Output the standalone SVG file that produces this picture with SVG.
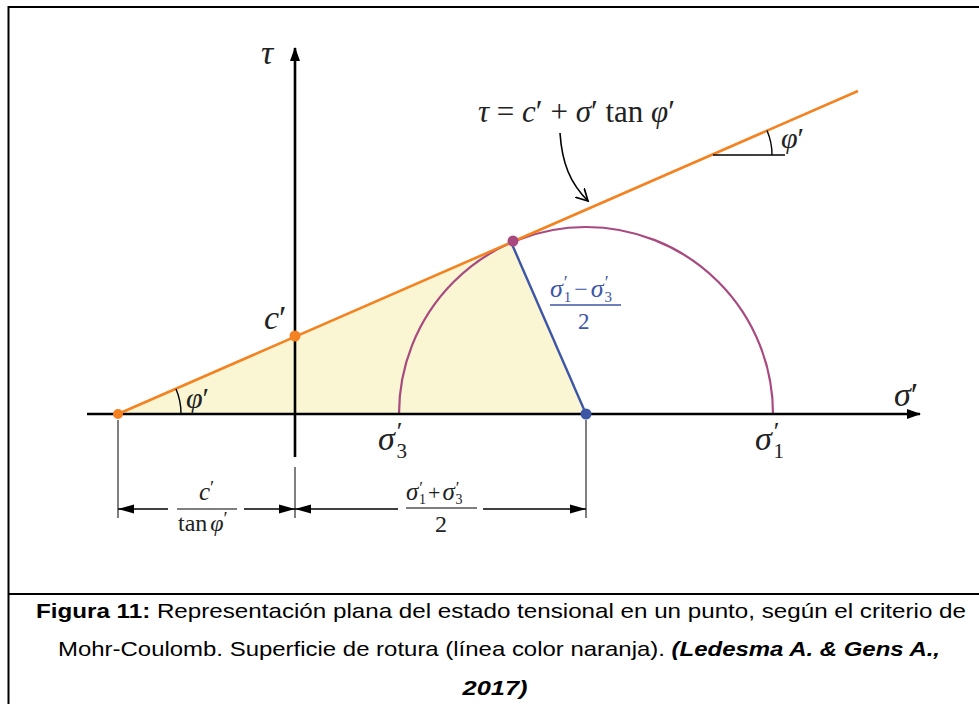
<svg xmlns="http://www.w3.org/2000/svg" width="979" height="704" viewBox="0 0 979 704">
<style>
.m{font-family:"Liberation Serif","Times New Roman",serif;fill:#222}
.i{font-style:italic}
.b{fill:#3D56A6}
.ax{stroke:#000;stroke-width:2.6;fill:none}
.dim{stroke:#555;stroke-width:1.5;fill:none}
.dl{stroke:#000;stroke-width:1.4;fill:none}
.cap{font-family:"Liberation Sans",Arial,sans-serif;font-size:21px;fill:#000}
</style>
<defs>
<marker id="ah" markerWidth="14" markerHeight="10" refX="13" refY="5" orient="auto" markerUnits="userSpaceOnUse">
<path d="M0,0 L14,5 L0,10 Z" fill="#000"/>
</marker>
<marker id="dh" markerWidth="16" markerHeight="10" refX="16" refY="5" orient="auto" markerUnits="userSpaceOnUse">
<path d="M0,0.5 L16,5 L0,9.5 Z" fill="#000"/>
</marker>
<marker id="vh" markerWidth="14" markerHeight="14" refX="12" refY="7" orient="auto" markerUnits="userSpaceOnUse">
<path d="M0,0.5 L12,7 L0,13.5" fill="none" stroke="#000" stroke-width="1.7"/>
</marker>
</defs>
<rect width="979" height="704" fill="#fff"/>
<g id="frame" stroke="#000" stroke-width="2" fill="none">
<path d="M8.5,704 V7 H979"/>
<path d="M8.5,594 H979"/>
</g>
<g id="fill-region">
<polygon points="118,414 511,242 586,414" fill="#FAF6D3"/>
</g>
<g id="circle">
<path d="M399,414 A187,187 0 0 1 773,414" fill="none" stroke="#A8497F" stroke-width="2.2"/>
</g>
<g id="connectors">
<line class="ax" x1="87" y1="414" x2="920" y2="414" marker-end="url(#ah)"/>
<line class="ax" x1="295" y1="457" x2="295" y2="48" marker-end="url(#ah)"/>
<line x1="118" y1="414" x2="858" y2="91" stroke="#F58220" stroke-width="2.6"/>
<line x1="511" y1="242" x2="586" y2="414" stroke="#3D56A6" stroke-width="2.4"/>
<line class="dl" x1="713" y1="155" x2="785" y2="155"/>
<path class="dl" d="M767,130.5 A61,61 0 0 1 772,155"/>
<path class="dl" d="M176,389 A63,63 0 0 1 181,414"/>
<path d="M560,133 C562,163 570,183 588,201" fill="none" stroke="#000" stroke-width="1.6" marker-end="url(#vh)"/>
<line class="dim" x1="118" y1="420" x2="118" y2="518"/>
<line class="dim" x1="295" y1="467" x2="295" y2="518"/>
<line class="dim" x1="586" y1="420" x2="586" y2="518"/>
<line class="dl" x1="168" y1="509" x2="118" y2="509" marker-end="url(#dh)"/>
<line class="dl" x1="244" y1="509" x2="295" y2="509" marker-end="url(#dh)"/>
<line class="dl" x1="398" y1="509" x2="295" y2="509" marker-end="url(#dh)"/>
<line class="dl" x1="483" y1="509" x2="586" y2="509" marker-end="url(#dh)"/>
</g>
<g id="points">
<circle cx="118" cy="414" r="5" fill="#F58220"/>
<circle cx="295" cy="336" r="5.5" fill="#F58220"/>
<circle cx="513" cy="241" r="5.5" fill="#A8497F"/>
<circle cx="586" cy="414" r="5.5" fill="#3D56A6"/>
</g>
<g id="labels">
<text class="m i" x="261" y="64" font-size="34">τ</text>
<text class="m" x="478" y="122" font-size="31"><tspan class="i">τ</tspan> = <tspan class="i">c</tspan>′ + <tspan class="i">σ</tspan>′ tan <tspan class="i">φ</tspan>′</text>
<text class="m" x="781" y="148" font-size="30"><tspan class="i">φ</tspan>′</text>
<text class="m" x="186" y="408" font-size="30"><tspan class="i">φ</tspan>′</text>
<text class="m" x="264" y="329" font-size="34"><tspan class="i">c</tspan>′</text>
<text class="m" x="894" y="406" font-size="34"><tspan class="i">σ</tspan>′</text>
<text class="m" x="378" y="450" font-size="34"><tspan class="i">σ</tspan><tspan font-size="26" dy="-10" dx="2">′</tspan><tspan font-size="21" dx="-6" dy="18">3</tspan></text>
<text class="m" x="755" y="450" font-size="34"><tspan class="i">σ</tspan><tspan font-size="26" dy="-10" dx="2">′</tspan><tspan font-size="21" dx="-6" dy="18">1</tspan></text>
</g>
<g id="radius-label">
<text class="m b" x="550" y="297" font-size="26"><tspan class="i">σ</tspan><tspan font-size="18" dy="-8" dx="1">′</tspan><tspan font-size="15" dx="-4" dy="13">1</tspan><tspan font-size="24" dx="3" dy="-5">−</tspan><tspan class="i" dx="3">σ</tspan><tspan font-size="18" dy="-8" dx="1">′</tspan><tspan font-size="15" dx="-4" dy="13">3</tspan></text>
<line x1="550" y1="305" x2="621" y2="305" stroke="#3D56A6" stroke-width="1.3"/>
<text class="m b" x="578" y="329" font-size="23">2</text>
</g>
<g id="dim-labels">
<text class="m" x="199" y="500" font-size="25"><tspan class="i">c</tspan><tspan font-size="19" dy="-6">′</tspan></text>
<line x1="177" y1="509" x2="237" y2="509" stroke="#000" stroke-width="1.2"/>
<text class="m" x="178" y="531" font-size="24">tan<tspan class="i" dx="3">φ</tspan><tspan font-size="19" dy="-6">′</tspan></text>
<text class="m" x="406" y="500" font-size="25"><tspan class="i">σ</tspan><tspan font-size="17" dy="-7" dx="1">′</tspan><tspan font-size="14" dx="-4" dy="11">1</tspan><tspan font-size="22" dx="2" dy="-4">+</tspan><tspan class="i" dx="2">σ</tspan><tspan font-size="17" dy="-7" dx="1">′</tspan><tspan font-size="14" dx="-4" dy="11">3</tspan></text>
<line x1="406" y1="508" x2="477" y2="508" stroke="#000" stroke-width="1.2"/>
<text class="m" x="435" y="532" font-size="24">2</text>
</g>
<g id="caption">
<text class="cap" x="501" y="618" text-anchor="middle" textLength="930" lengthAdjust="spacingAndGlyphs"><tspan font-weight="bold">Figura 11:</tspan> Representación plana del estado tensional en un punto, según el criterio de</text>
<text class="cap" x="499" y="656" text-anchor="middle" textLength="882" lengthAdjust="spacingAndGlyphs">Mohr-Coulomb. Superficie de rotura (línea color naranja). <tspan font-weight="bold" font-style="italic">(Ledesma A. &amp; Gens A.,</tspan></text>
<text class="cap" x="495" y="695" text-anchor="middle" textLength="65" lengthAdjust="spacingAndGlyphs" font-weight="bold" font-style="italic">2017)</text>
</g>
</svg>
